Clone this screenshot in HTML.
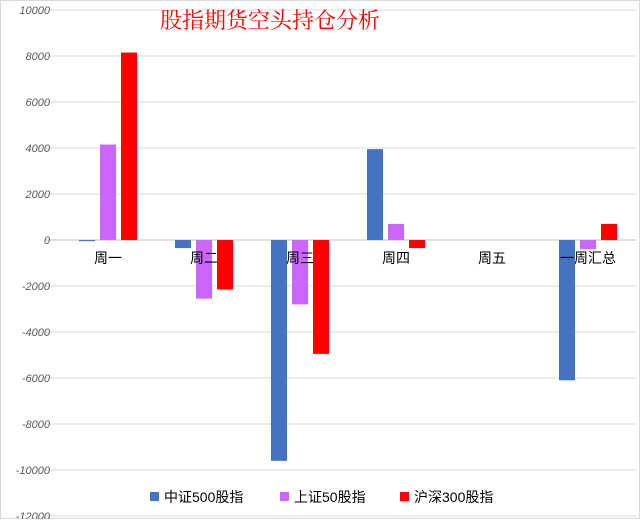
<!DOCTYPE html>
<html><head><meta charset="utf-8"><style>
html,body{margin:0;padding:0;background:#fff;}
svg text{font-family:"Liberation Sans","Noto Sans CJK SC",sans-serif;}
</style></head><body>
<svg id="chart" width="640" height="519" xmlns="http://www.w3.org/2000/svg">
<rect x="0.5" y="0.5" width="639" height="518" fill="#fff" stroke="#d9d9d9"/>
<g id="grid"></g><g id="bars"></g><g id="labels"></g>
<text x="270" y="28" text-anchor="middle" font-size="22" fill="#ff0000" style="font-family:'Noto Serif CJK SC',serif">股指期货空头持仓分析</text>
<g id="legend"></g>
</svg>
<script>
const categories=["周一","周二","周三","周四","周五","一周汇总"];
const seriesNames=["中证500股指","上证50股指","沪深300股指"];
const s1=[-50,-350,-9600,3950,0,-6100];
const s2=[4150,-2550,-2800,700,0,-400];
const s3=[8150,-2150,-4950,-350,0,700];
const yTicks=[10000,8000,6000,4000,2000,0,-2000,-4000,-6000,-8000,-10000,-12000];
const colors=["#4472c4","#cc66ff","#ff0000"];
const NS="http://www.w3.org/2000/svg";
const y=v=>240-v*0.023;
const left=60,pitch=96;
const cx=i=>left+pitch*i+pitch/2;
function mk(t,a,p){const e=document.createElementNS(NS,t);for(const k in a)e.setAttribute(k,a[k]);p.appendChild(e);return e;}
const grid=document.getElementById('grid'),bars=document.getElementById('bars'),labels=document.getElementById('labels'),legend=document.getElementById('legend');
yTicks.forEach(v=>{
 const l=mk('line',{x1:45,x2:636,y1:y(v),y2:y(v),stroke:v===0?'#bfbfbf':'#d9d9d9','stroke-width':1},grid);
 
 
 const t=mk('text',{x:50,y:y(v)+4,'text-anchor':'end','font-size':11,fill:'#595959','font-style':'italic'},labels);
 t.textContent=v;
 
 
});
[s1,s2,s3].forEach((s,si)=>{
 s.forEach((v,i)=>{
  const x=cx(i)-29+si*21;
  const r=mk('rect',{x:x,y:Math.min(y(v),y(0)),width:16,height:Math.abs(y(v)-y(0)),fill:colors[si]},bars);
  
  
 });
});
categories.forEach((c,i)=>{
 const t=mk('text',{x:cx(i),y:263,'text-anchor':'middle','font-size':14,fill:'#000'},labels);
 t.textContent=c;
 
 
});
const lx=[150,280,400];
seriesNames.forEach((n,i)=>{
 const r=mk('rect',{x:lx[i],y:492,width:9,height:9,fill:colors[i]},legend);
 
 
 const t=mk('text',{x:lx[i]+14,y:502,'font-size':14,fill:'#000'},legend);
 t.textContent=n;
 
 
});
</script>
</body></html>
